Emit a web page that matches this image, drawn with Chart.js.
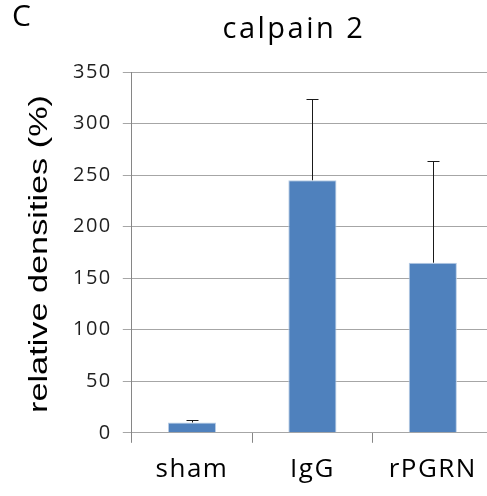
<!DOCTYPE html>
<html>
<head>
<meta charset="utf-8">
<script src="https://cdn.jsdelivr.net/npm/chart.js@4"></script>
<style>
  html, body { margin: 0; padding: 0; background: #fff; overflow: hidden; }
  #wrap { width: 496px; height: 496px; position: relative; }
</style>
</head>
<body>
<div id="wrap"><canvas id="chart"></canvas></div>
<script>
// data
const groups = ['sham', 'IgG', 'rPGRN'];
const densities = [10, 245, 165];
const errorsUp = [2, 79, 99];
const yTicks = [0, 50, 100, 150, 200, 250, 300, 350];

// the source figure's text is a bit wider than our fonts, so space the letters out
const spacing = {
    id: 'spacing',
    beforeUpdate(chart) { chart.ctx.letterSpacing = '1.5px'; },
    beforeDraw(chart) { chart.ctx.letterSpacing = '1.5px'; }
};

// draws the upper error bar + cap for each bar
const errorBars = {
    id: 'errorBars',
    afterDatasetsDraw(chart) {
        const ctx = chart.ctx;
        const yScale = chart.scales.y;
        const meta = chart.getDatasetMeta(0);
        ctx.save();
        ctx.strokeStyle = '#1a1a1a';
        ctx.lineWidth = 1;
        meta.data.forEach((bar, i) => {
            const x = Math.round(bar.x) + 0.5;
            const yTop = Math.round(yScale.getPixelForValue(densities[i] + errorsUp[i])) + 0.5;
            ctx.beginPath();
            ctx.moveTo(x, bar.y);
            ctx.lineTo(x, yTop);
            ctx.moveTo(x - 6, yTop);
            ctx.lineTo(x + 6, yTop);
            ctx.stroke();
        });
        ctx.restore();
    }
};

// panel letter, title and the (stretched) y axis title
const extraText = {
    id: 'extraText',
    afterDraw(chart) {
        const ctx = chart.ctx;
        ctx.save();
        ctx.fillStyle = '#000';
        ctx.textBaseline = 'alphabetic';

        ctx.letterSpacing = '0px';
        ctx.font = '30px "Open Sans"';
        ctx.textAlign = 'left';
        ctx.fillText('C', 12, 26);

        ctx.letterSpacing = '2.5px';
        ctx.font = '29px "Open Sans"';
        ctx.textAlign = 'center';
        ctx.fillText('calpain 2', 294, 38);

        const label = 'relative densities (%)';
        ctx.letterSpacing = '0px';
        ctx.font = '25px "Liberation Sans"';
        const w = ctx.measureText(label).width;
        ctx.translate(46.5, 254);
        ctx.rotate(-Math.PI / 2);
        ctx.scale(318 / w, 1);
        ctx.fillText(label, 0, 0);
        ctx.restore();
    }
};

new Chart(document.getElementById('chart'), {
    type: 'bar',
    data: {
        labels: groups,
        datasets: [{
            data: densities,
            backgroundColor: '#4f81bd',
            borderColor: '#b9cde5',
            borderWidth: 1,
            categoryPercentage: 1,
            barPercentage: 0.4
        }]
    },
    options: {
        responsive: true,
        maintainAspectRatio: false,
        animation: false,
        layout: { padding: { top: 72, left: 62, right: 3, bottom: 0 } },
        scales: {
            x: {
                offset: true,
                grid: {
                    offset: true,
                    drawOnChartArea: false,
                    color: '#868686',
                    tickLength: 10
                },
                border: { display: false },
                ticks: {
                    color: '#000',
                    font: { family: 'Open Sans', size: 26 },
                    padding: 11
                }
            },
            y: {
                min: 0,
                max: 350,
                afterBuildTicks(scale) {
                    scale.ticks = yTicks.map(v => ({ value: v }));
                },
                grid: {
                    color: '#a6a6a6',
                    tickLength: 9
                },
                border: { color: '#868686' },
                ticks: {
                    color: '#1f1f1f',
                    font: { family: 'Open Sans', size: 20 },
                    padding: 11
                }
            }
        },
        plugins: {
            legend: { display: false },
            tooltip: { enabled: false },
            title: { display: false }
        }
    },
    plugins: [spacing, errorBars, extraText]
});
</script>
</body>
</html>
